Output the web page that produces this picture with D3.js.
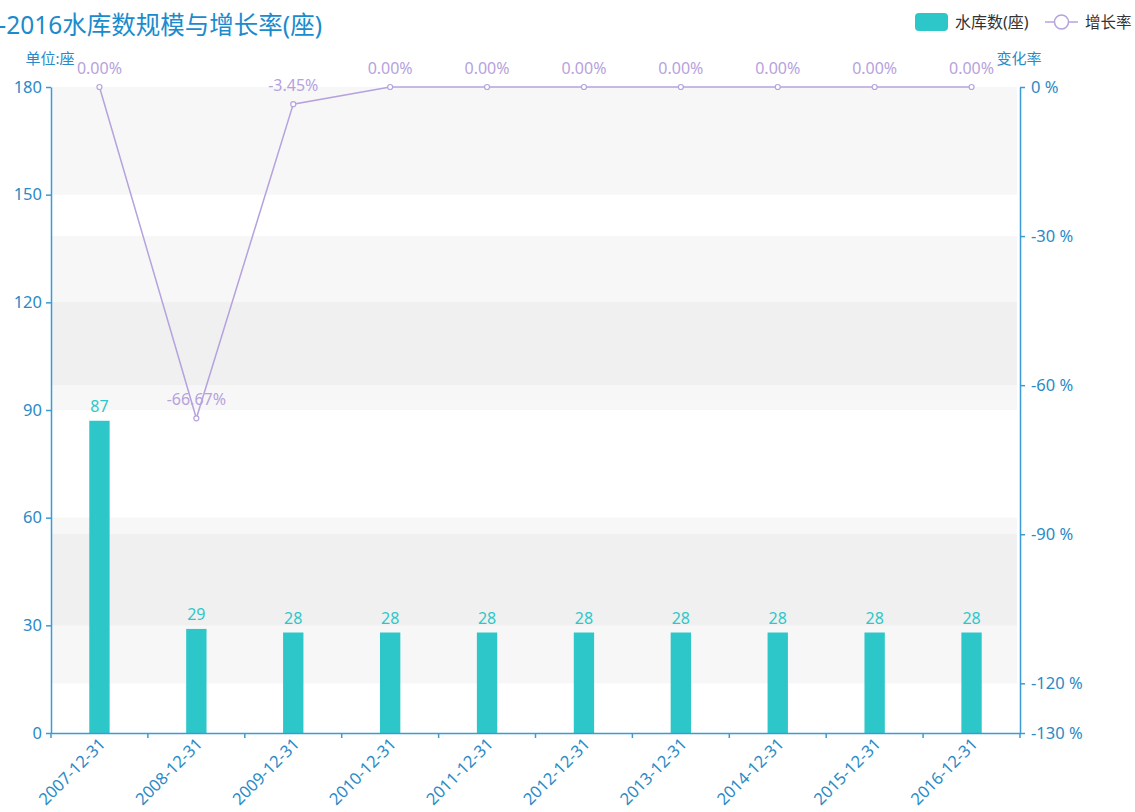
<!DOCTYPE html>
<html>
<head>
    <meta charset="utf-8">
    <script src="https://d3js.org/d3.v7.min.js"></script>
    <style>
        body { margin: 0; background: #fff; }
        text { font-family: "Noto Sans", "Noto Sans CJK SC", sans-serif; }
    </style>
</head>
<body>
    <div id="chart" style="width: 1135px; height: 812px;"></div>

    <script>
        // data
        const categories = ["2007-12-31", "2008-12-31", "2009-12-31", "2010-12-31", "2011-12-31",
            "2012-12-31", "2013-12-31", "2014-12-31", "2015-12-31", "2016-12-31"];
        const reservoirs = [87, 29, 28, 28, 28, 28, 28, 28, 28, 28];
        const growth = [0.00, -66.67, -3.45, 0.00, 0.00, 0.00, 0.00, 0.00, 0.00, 0.00];
        const leftTicks = [0, 30, 60, 90, 120, 150, 180];
        const rightTicks = [0, -30, -60, -90, -120, -130];

        function program() {
            const barColor = "#2ec7c9";
            const lineColor = "#b6a2de";
            const axisColor = "#3a9bd5";
            const labelColor = "#2a8ac6";
            const font = "'Noto Sans', 'Noto Sans CJK SC', sans-serif";

            const pLeft = 51, pRight = 1020, pTop = 87, pBottom = 733;

            const svg = d3.select("#chart")
                .append("svg")
                .attr("width", 1135)
                .attr("height", 812);

            const x = d3.scaleBand().domain(categories).range([pLeft, pRight]);
            const yL = d3.scaleLinear().domain([0, 180]).range([pBottom, pTop]);
            const yR = d3.scaleLinear().domain([-130, 0]).range([pBottom, pTop]);

            // split areas, every second band shaded, for both axes
            const shade = "rgba(200,200,200,0.14)";
            const areas = svg.append("g");
            for (let i = 1; i < leftTicks.length - 1; i += 2) {
                areas.append("rect")
                    .attr("x", pLeft + 1).attr("width", pRight - pLeft - 4)
                    .attr("y", yL(leftTicks[i + 1])).attr("height", yL(leftTicks[i]) - yL(leftTicks[i + 1]))
                    .attr("fill", shade);
            }
            for (let i = 1; i < rightTicks.length - 1; i += 2) {
                areas.append("rect")
                    .attr("x", pLeft + 1).attr("width", pRight - pLeft - 4)
                    .attr("y", yR(rightTicks[i])).attr("height", yR(rightTicks[i + 1]) - yR(rightTicks[i]))
                    .attr("fill", shade);
            }

            // bars
            const bw = x.bandwidth() * 0.21;
            svg.append("g")
                .selectAll("rect")
                .data(reservoirs)
                .join("rect")
                .attr("x", (d, i) => x(categories[i]) + x.bandwidth() / 2 - bw / 2)
                .attr("width", bw)
                .attr("y", d => yL(d))
                .attr("height", d => yL(0) - yL(d))
                .attr("fill", barColor);

            svg.append("g")
                .selectAll("text")
                .data(reservoirs)
                .join("text")
                .attr("x", (d, i) => x(categories[i]) + x.bandwidth() / 2)
                .attr("y", d => yL(d) - 9)
                .attr("text-anchor", "middle")
                .attr("font-size", 16)
                .attr("fill", barColor)
                .text(d => d);

            // axes
            const axL = svg.append("g")
                .attr("transform", "translate(" + pLeft + ",0)")
                .call(d3.axisLeft(yL).tickValues(leftTicks).tickSize(5).tickSizeOuter(0).tickPadding(4));
            const axR = svg.append("g")
                .attr("transform", "translate(" + pRight + ",0)")
                .call(d3.axisRight(yR).tickValues(rightTicks).tickSize(5).tickSizeOuter(0).tickPadding(6)
                    .tickFormat(d => d + " %"));
            const axX = svg.append("g")
                .attr("transform", "translate(0," + pBottom + ")")
                .call(d3.axisBottom(x).tickSize(0).tickSizeOuter(0).tickFormat(""));

            [axL, axR, axX].forEach(g => {
                g.select(".domain").attr("stroke", axisColor).attr("stroke-width", 1.5);
                g.selectAll(".tick line").attr("stroke", axisColor).attr("stroke-width", 1.5);
                g.selectAll(".tick text")
                    .attr("fill", labelColor)
                    .attr("font-size", 16.5)
                    .style("font-family", font);
            });

            // x ticks at band boundaries
            svg.append("g")
                .selectAll("line")
                .data(d3.range(categories.length + 1))
                .join("line")
                .attr("x1", i => pLeft + i * x.step())
                .attr("x2", i => pLeft + i * x.step())
                .attr("y1", pBottom).attr("y2", pBottom + 5)
                .attr("stroke", axisColor).attr("stroke-width", 1.5);

            svg.append("g")
                .selectAll("text")
                .data(categories)
                .join("text")
                .attr("transform", d => "translate(" + (x(d) + x.bandwidth() / 2 + 3) + "," + (pBottom + 8) + ") rotate(-45)")
                .attr("text-anchor", "end")
                .attr("dy", "0.35em")
                .attr("font-size", 16.5)
                .attr("fill", labelColor)
                .text(d => d);

            // growth line
            const line = d3.line()
                .x((d, i) => x(categories[i]) + x.bandwidth() / 2)
                .y(d => yR(d));
            svg.append("path")
                .datum(growth)
                .attr("d", line)
                .attr("fill", "none")
                .attr("stroke", lineColor)
                .attr("stroke-width", 1.5);

            svg.append("g")
                .selectAll("circle")
                .data(growth)
                .join("circle")
                .attr("cx", (d, i) => x(categories[i]) + x.bandwidth() / 2)
                .attr("cy", d => yR(d))
                .attr("r", 2.5)
                .attr("fill", "#fff")
                .attr("stroke", lineColor)
                .attr("stroke-width", 1.2);

            svg.append("g")
                .selectAll("text")
                .data(growth)
                .join("text")
                .attr("x", (d, i) => x(categories[i]) + x.bandwidth() / 2)
                .attr("y", d => yR(d) - 13)
                .attr("text-anchor", "middle")
                .attr("font-size", 16)
                .attr("fill", lineColor)
                .text(d => d.toFixed(2) + "%");

            // axis names
            svg.append("text").attr("x", 50).attr("y", 64).attr("text-anchor", "middle")
                .attr("font-size", 15).attr("fill", labelColor).text("单位:座");
            svg.append("text").attr("x", 1019).attr("y", 64).attr("text-anchor", "middle")
                .attr("font-size", 15).attr("fill", labelColor).text("变化率");

            // title (cut off at the left edge, as in the source)
            svg.append("text").attr("x", 322).attr("y", 34).attr("text-anchor", "end")
                .attr("font-size", 24.5).attr("fill", "#1a8bcd").text("2007-2016水库数规模与增长率(座)");

            // legend
            svg.append("rect").attr("x", 915).attr("y", 13).attr("width", 33).attr("height", 18).attr("rx", 4)
                .attr("fill", barColor);
            svg.append("text").attr("x", 955).attr("y", 28).attr("font-size", 16).attr("fill", "#333")
                .text("水库数(座)");
            svg.append("line").attr("x1", 1045).attr("x2", 1078).attr("y1", 22).attr("y2", 22)
                .attr("stroke", lineColor).attr("stroke-width", 1.5);
            svg.append("circle").attr("cx", 1061.5).attr("cy", 22).attr("r", 7)
                .attr("fill", "#fff").attr("stroke", lineColor).attr("stroke-width", 1.5);
            svg.append("text").attr("x", 1085).attr("y", 28).attr("font-size", 15.5).attr("fill", "#333")
                .text("增长率");
        }

        program();
    </script>
</body>
</html>
